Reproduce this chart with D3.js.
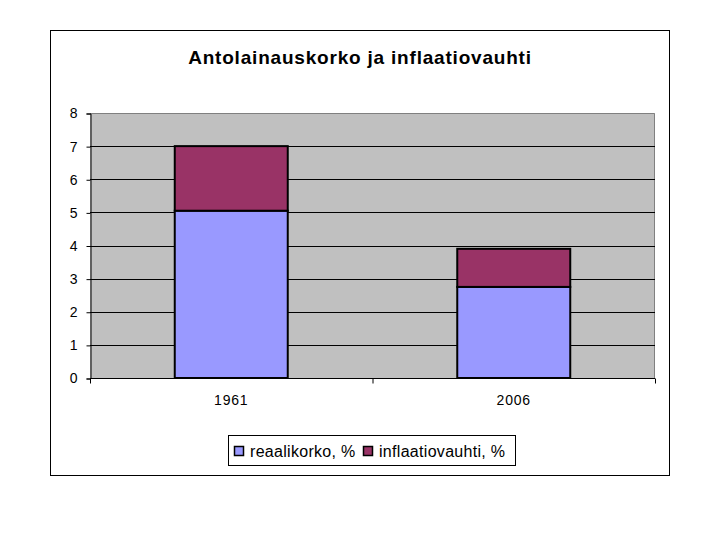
<!DOCTYPE html>
<html><head><meta charset="utf-8">
<script src="https://cdn.jsdelivr.net/npm/d3@7"></script>
<style>body{margin:0;background:#fff}svg{display:block}text{font-family:Arial,"Liberation Sans",sans-serif}</style>
</head><body><svg id="c" width="720" height="540"></svg>
<script>
const title = "Antolainauskorko ja inflaatiovauhti";
const categories = ["1961", "2006"];
const seriesNames = ["reaalikorko, %", "inflaatiovauhti, %"];
const reaalikorko = [5.05, 2.75];
const inflaatiovauhti = [1.95, 1.15];
const yTicks = [0, 1, 2, 3, 4, 5, 6, 7, 8];
const colors = ["#9999FF", "#993366"];

const svg = d3.select("#c");
svg.append("rect").attr("x", 50.5).attr("y", 30.5).attr("width", 619).attr("height", 445)
  .attr("fill", "#fff").attr("stroke", "#000");
svg.append("text").attr("x", 360).attr("y", 64).attr("text-anchor", "middle")
  .attr("font-size", 19).attr("letter-spacing", 0.8).attr("font-weight", "bold").text(title);

const L = 90, R = 655, T = 113, B = 378;
const x = d3.scaleBand().domain(categories).range([L, R]).paddingInner(0).paddingOuter(0);
const y = d3.scaleLinear().domain([0, 8]).range([B, T]);

svg.append("rect").attr("x", L).attr("y", T).attr("width", R - L).attr("height", B - T).attr("fill", "#C0C0C0");
svg.append("path").attr("d", `M${L},${T + 0.5}H${R - 0.5}V${B}`).attr("fill", "none").attr("stroke", "#808080");

const grid = svg.append("g");
yTicks.filter(t => t > 0 && t < 8).forEach(t => {
  grid.append("line").attr("x1", L).attr("x2", R).attr("y1", Math.round(y(t)) + 0.5).attr("y2", Math.round(y(t)) + 0.5)
    .attr("stroke", "#000");
});

const stacks = d3.stack().keys([0, 1]).value((d, k) => d[k])(categories.map((c, i) => [reaalikorko[i], inflaatiovauhti[i]]));
const bw = x.bandwidth() * 0.4;
stacks.forEach((s, k) => {
  svg.append("g").selectAll("rect").data(s).join("rect")
    .attr("x", (d, i) => x(categories[i]) + (x.bandwidth() - bw) / 2)
    .attr("y", d => y(d[1]))
    .attr("width", bw)
    .attr("height", d => y(d[0]) - y(d[1]))
    .attr("fill", colors[k]).attr("stroke", "#000").attr("stroke-width", 2);
});

const ya = d3.axisLeft(y).tickValues(yTicks).tickSize(4).tickPadding(9).tickFormat(d3.format("d"));
const gy = svg.append("g").attr("transform", `translate(${L + 0.5},0.5)`).call(ya);
gy.selectAll("text").attr("font-size", 14).attr("font-family", "Arial");
const xa = d3.axisBottom(x).tickSize(0).tickPadding(17);
const gx = svg.append("g").attr("transform", `translate(0,${B + 0.5})`).call(xa);
gx.selectAll("text").attr("font-size", 14).attr("letter-spacing", 0.8).attr("font-family", "Arial");
gx.select(".domain").attr("d", `M${L},0H${R}`);
[L, L + x.bandwidth(), R].forEach(v => gx.append("line").attr("x1", v + 0.5).attr("x2", v + 0.5).attr("y1", 0).attr("y2", 5).attr("stroke", "#000"));

const lg = svg.append("g");
lg.append("rect").attr("x", 228.5).attr("y", 435.5).attr("width", 287).attr("height", 30).attr("fill", "#fff").attr("stroke", "#000");
const items = [{x: 234, tx: 250}, {x: 363, tx: 379}];
items.forEach((it, i) => {
  lg.append("rect").attr("x", it.x + 0.5).attr("y", 446.5).attr("width", 9).attr("height", 9)
    .attr("fill", colors[i]).attr("stroke", "#000").attr("stroke-width", 1.5);
  lg.append("text").attr("x", it.tx).attr("y", 457).attr("font-size", 16).attr("letter-spacing", 0.3).text(seriesNames[i]);
});
</script></body></html>
